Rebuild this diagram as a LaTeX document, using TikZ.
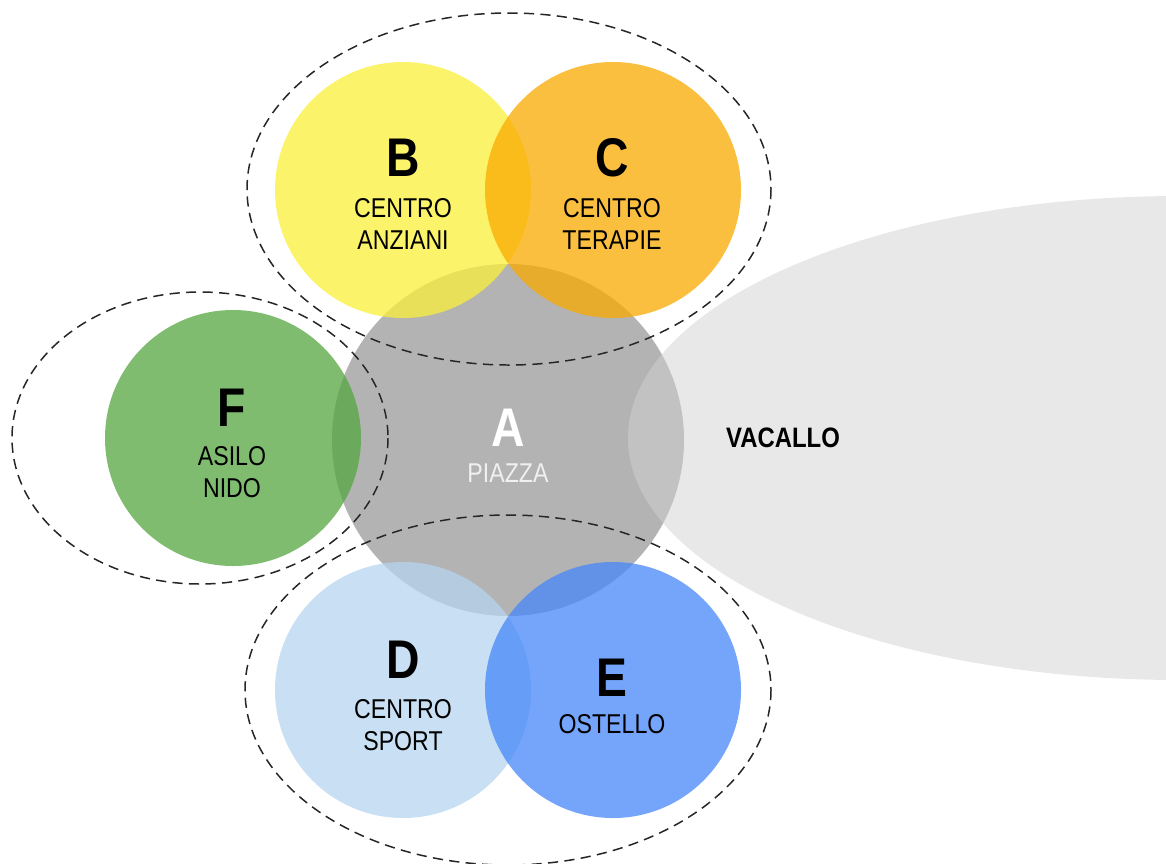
\documentclass[tikz,border=0pt]{standalone}
\usepackage{fontspec}
\setmainfont{Liberation Sans}[FakeStretch=0.85]
\usepackage{tikz}
\usetikzlibrary{calc}
\definecolor{grigio}{RGB}{179, 179, 179}
\definecolor{vacallo}{RGB}{210, 210, 210}
\definecolor{giallo}{RGB}{250, 240, 58}
\definecolor{arancio}{RGB}{250, 170, 0}
\definecolor{verde}{RGB}{84, 166, 64}
\definecolor{celeste}{RGB}{182, 212, 240}
\definecolor{blu}{RGB}{70, 135, 250}

\begin{document}
\begin{tikzpicture}[x=0.02cm, y=-0.02cm,
    lettera/.style={font=\fontsize{31}{31}\selectfont\bfseries},
    nome/.style={font=\fontsize{15.5}{18.5}\selectfont, align=center},
    zona/.style={fill opacity=0.75},
    gruppo/.style={line width=0.85pt, draw=black!85, dash pattern=on 5.8pt off 3.6pt}]
  \useasboundingbox (0, 0) rectangle (1166, 863);
  \clip (0, 0) rectangle (1166, 863);

  \fill[grigio] (508, 440) circle (176);
  \fill[vacallo, fill opacity=0.5] (1180, 438) ellipse [x radius=552, y radius=242];

  \fill[zona, giallo] (403, 190) circle (128);
  \fill[zona, arancio] (613, 190) circle (128);
  \fill[zona, verde] (233, 438) circle (128);
  \fill[zona, celeste] (403, 690) circle (128);
  \fill[zona, blu] (613, 690) circle (128);

  \draw[gruppo] (509, 189) ellipse [x radius=262, y radius=176];
  \draw[gruppo] (200, 438) ellipse [x radius=188, y radius=146];
  \draw[gruppo] (508, 690) ellipse [x radius=263, y radius=175];

  \node[lettera] (lb) at (403, 158) {B};
  \node[nome] (nb) at (403, 224) {CENTRO\\ANZIANI};
  \node[lettera] (lc) at (612, 158) {C};
  \node[nome] (nc) at (612, 224) {CENTRO\\TERAPIE};

  \node[lettera, white] (la) at (508, 428) {A};
  \node[nome, color=white!94!black] (na) at (508, 473) {PIAZZA};

  \node[lettera] (lf) at (232, 408) {F};
  \node[nome] (nf) at (232, 472) {ASILO\\NIDO};

  \node[lettera] (ld) at (403, 660) {D};
  \node[nome] (nd) at (403, 725) {CENTRO\\SPORT};
  \node[lettera] (le) at (612, 678) {E};
  \node[nome] (ne) at (612, 724) {OSTELLO};

  \node[font=\fontsize{16}{16}\selectfont\bfseries] (vac) at (783, 438) {VACALLO};
\end{tikzpicture}
\end{document}
